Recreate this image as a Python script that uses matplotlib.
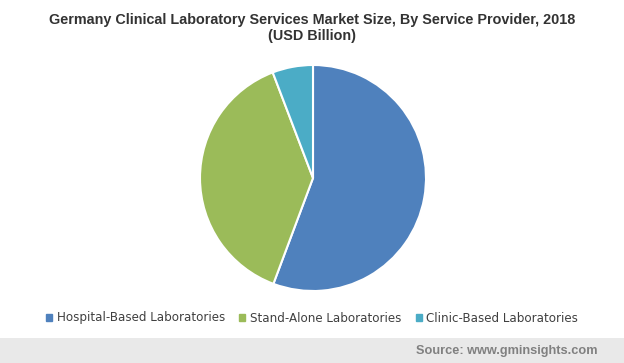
import matplotlib.pyplot as plt
import matplotlib.patches as mpatches

# data
labels = ["Hospital-Based Laboratories", "Stand-Alone Laboratories", "Clinic-Based Laboratories"]
values = [55.7, 38.5, 5.8]
colors = ["#4f81bd", "#9bbb59", "#4bacc6"]

fig = plt.figure(figsize=(6.24, 3.63), dpi=100)
fig.patch.set_facecolor("white")

# pie axes, centre ~ (313,178) px, radius ~112 px
ax = fig.add_axes([(313 - 113) / 624, 1 - (178 + 113) / 363, 226 / 624, 226 / 363])
ax.pie(values, colors=colors, startangle=90, counterclock=False, radius=1,
       wedgeprops=dict(edgecolor="white", linewidth=1.5))
ax.set_xlim(-1, 1)
ax.set_ylim(-1, 1)
ax.set_aspect("equal")
ax.axis("off")

# title
fig.text(0.5, 1 - 28 / 363, "Germany Clinical Laboratory Services Market Size, By Service Provider, 2018\n(USD Billion)",
         ha="center", va="center", fontsize=10.4, fontweight="bold", color="#333333",
         family="Liberation Sans", linespacing=1.25)

# legend
handles = [mpatches.Patch(color=c, label=l) for c, l in zip(colors, labels)]
fig.legend(handles=handles, loc="center", bbox_to_anchor=(0.5, 1 - 318 / 363), ncol=3,
           frameon=False, fontsize=8.6, handlelength=0.5, handleheight=0.5,
           handletextpad=0.4, columnspacing=1.2, labelcolor="#404040")

# source band
band = mpatches.Rectangle((0, 0), 1, 25 / 363, transform=fig.transFigure,
                          facecolor="#e9e9e9", edgecolor="none")
fig.patches.append(band)
fig.text(597 / 624, 12 / 363, "Source: www.gminsights.com", ha="right", va="center",
         fontsize=9.2, fontweight="bold", color="#808080", family="Liberation Sans")

fig.savefig("out.png", dpi=100)
